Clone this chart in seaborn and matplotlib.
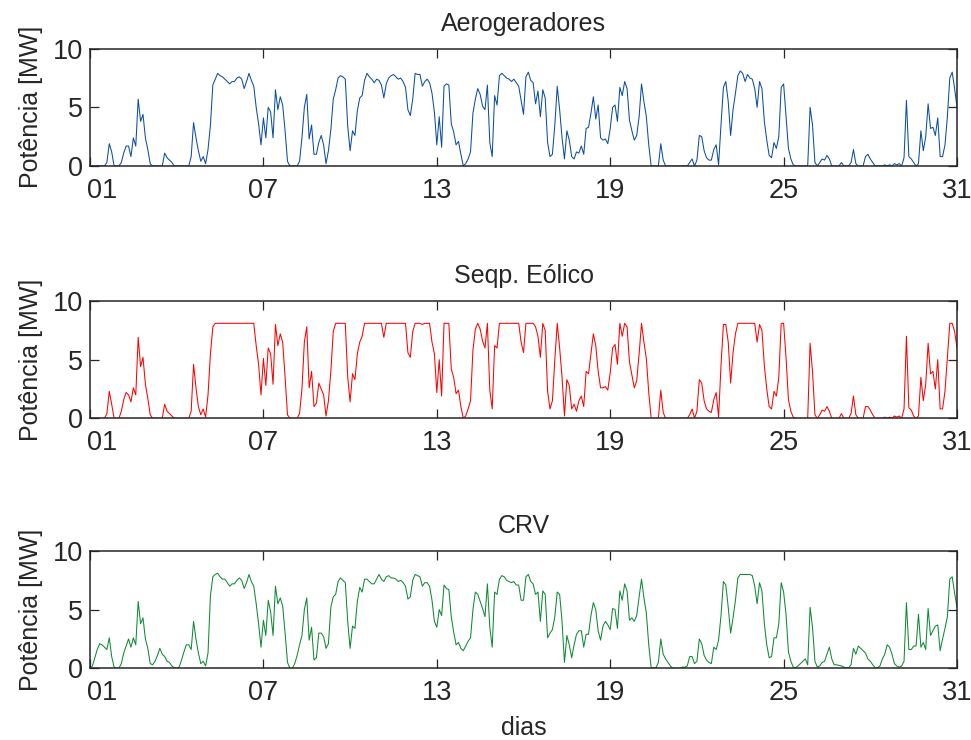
import numpy as np
import pandas as pd
import matplotlib
matplotlib.use("Agg")
import matplotlib.pyplot as plt
import matplotlib.transforms as mtransforms
import seaborn as sns

# Potência horária (amostras a cada 2 h), uma linha por dia; último valor = dia 31 00h
aerogeradores = [
    [0, 0, 0, 0, 0, 0, 0, 0.3, 1.9, 1.2, 0, 0],
    [0, 0.3, 1.1, 1.7, 1.7, 0.8, 2.4, 1.7, 5.7, 3.8, 4.4, 2.4],
    [1.4, 0.2, 0, 0, 0, 0, 0, 1.1, 0.7, 0.5, 0.3, 0],
    [0, 0, 0, 0, 0, 0, 0.8, 3.7, 2.4, 1.3, 0.4, 0.8],
    [0.2, 1.4, 3.5, 6.9, 7.4, 7.9, 7.7, 7.6, 7.4, 7.2, 7.0, 7.2],
    [7.2, 7.5, 7.6, 7.4, 6.6, 7.2, 7.9, 7.3, 6.8, 5.0, 3.6, 1.8],
    [4.1, 2.4, 5.0, 4.6, 2.4, 6.5, 4.8, 5.9, 5.2, 3.0, 0.4, 0],
    [0, 0, 0, 0.4, 2.4, 5.0, 6.1, 2.3, 3.5, 1.0, 1.0, 2.0],
    [2.6, 1.8, 0.2, 1.3, 3.1, 5.7, 6.5, 7.5, 7.7, 7.6, 7.4, 3.4],
    [1.3, 3.0, 2.6, 4.7, 5.8, 6.0, 7.3, 7.9, 7.6, 7.4, 7.1, 7.4],
    [7.3, 6.9, 5.8, 7.0, 7.5, 7.7, 7.8, 7.6, 7.4, 7.5, 7.2, 6.7],
    [4.8, 4.3, 5.7, 7.9, 7.8, 7.8, 6.8, 7.2, 7.4, 7.1, 6.2, 4.6],
    [1.8, 4.2, 1.6, 6.8, 7.0, 6.9, 3.6, 2.9, 1.8, 2.1, 1.0, 0],
    [0.2, 0.6, 1.2, 4.5, 5.7, 6.6, 6.1, 5.1, 4.8, 6.9, 2.0, 0.8],
    [6.0, 5.2, 7.7, 7.9, 7.7, 7.5, 7.4, 7.2, 7.4, 7.1, 6.8, 5.6],
    [4.4, 7.6, 8.0, 7.3, 7.1, 5.3, 6.4, 4.2, 6.5, 5.8, 2.0, 0.8],
    [1.0, 3.5, 6.8, 4.8, 2.4, 0.6, 3.0, 2.2, 0.8, 0.6, 1.2, 1.1],
    [1.7, 1.0, 3.2, 3.3, 4.5, 5.9, 4.0, 5.2, 2.4, 2.2, 2.3, 1.9],
    [3.2, 5.0, 5.2, 3.8, 6.7, 6.0, 7.2, 6.6, 3.9, 3.0, 2.2, 2.6],
    [4.2, 7.0, 5.5, 4.2, 1.8, 0, 0, 0, 0, 1.9, 0.5, 0],
    [0, 0, 0, 0, 0, 0, 0, 0, 0, 0.3, 0.6, 0],
    [0.5, 2.6, 2.5, 1.3, 0.7, 0.5, 0.5, 1.4, 1.8, 0.1, 3.5, 6.7],
    [7.2, 5.5, 2.6, 4.8, 6.2, 7.7, 8.1, 7.9, 7.2, 7.8, 7.5, 7.4],
    [6.6, 5.0, 7.2, 6.6, 3.8, 2.2, 0.9, 0.7, 2.0, 1.5, 2.5, 6.7],
    [7.0, 4.2, 1.5, 0.6, 0.1, 0, 0, 0, 0, 0, 0, 5.0],
    [3.5, 0.3, 0, 0.3, 0.6, 0.5, 0.9, 0.6, 0, 0, 0, 0],
    [0.3, 0, 0, 0, 0.3, 1.4, 0.2, 0, 0, 0, 0.8, 1.0],
    [0.6, 0.3, 0, 0, 0, 0, 0.1, 0, 0.1, 0, 0.2, 0.1],
    [0.2, 0, 0.7, 5.6, 0.8, 0.6, 0.3, 0, 0.2, 3.0, 1.3, 2.5],
    [5.3, 3.2, 3.3, 2.6, 4.1, 0.8, 0.8, 1.8, 4.2, 7.5, 8.0, 6.6],
    [5.0],
]

seqp_eolico = [
    [0, 0, 0, 0, 0, 0, 0, 0.4, 2.3, 1.2, 0, 0],
    [0, 0.6, 1.6, 2.2, 2.0, 1.4, 2.6, 2.0, 6.9, 4.4, 5.2, 2.9],
    [1.7, 0.3, 0, 0, 0, 0, 0, 1.2, 0.6, 0.4, 0.2, 0],
    [0, 0, 0, 0, 0, 0, 0.6, 4.6, 2.6, 1.0, 0.3, 0.8],
    [0.1, 2.0, 5.5, 7.8, 8.1, 8.1, 8.1, 8.1, 8.1, 8.1, 8.1, 8.1],
    [8.1, 8.1, 8.1, 8.1, 8.1, 8.1, 8.1, 8.1, 8.1, 6.2, 4.6, 2.0],
    [5.1, 2.8, 6.0, 5.5, 2.9, 8.0, 6.2, 7.2, 6.5, 3.5, 0.3, 0],
    [0, 0, 0, 0.4, 2.5, 6.5, 7.8, 2.6, 4.0, 1.0, 1.3, 3.0],
    [2.5, 2.0, 0.2, 1.5, 4.0, 7.4, 8.1, 8.1, 8.1, 8.1, 8.1, 3.5],
    [1.4, 3.8, 3.3, 5.5, 6.5, 7.0, 8.1, 8.1, 8.1, 8.1, 8.1, 8.1],
    [8.1, 8.1, 6.9, 8.1, 8.1, 8.1, 8.1, 8.1, 8.1, 8.1, 8.1, 8.1],
    [5.6, 5.2, 7.4, 8.1, 8.1, 8.1, 8.0, 8.1, 8.1, 8.1, 6.5, 5.5],
    [2.2, 5.0, 1.9, 8.1, 8.1, 8.1, 4.2, 3.5, 2.1, 2.4, 1.0, 0],
    [0.2, 0.8, 1.5, 5.8, 7.6, 8.1, 7.6, 6.6, 6.0, 8.1, 2.4, 0.8],
    [6.2, 6.0, 8.1, 8.1, 8.1, 8.1, 8.1, 8.1, 8.1, 8.1, 8.1, 6.5],
    [5.6, 8.1, 8.1, 8.1, 8.1, 7.8, 7.0, 5.2, 8.1, 7.5, 2.3, 0.8],
    [1.5, 5.0, 8.1, 6.0, 3.5, 0.2, 3.3, 2.8, 0.8, 1.2, 0.6, 1.5],
    [1.9, 1.0, 4.0, 3.8, 5.5, 7.2, 6.2, 4.0, 2.6, 2.6, 2.7, 2.4],
    [3.9, 6.0, 6.3, 4.6, 8.1, 7.0, 8.1, 7.8, 4.8, 3.7, 2.6, 3.2],
    [5.5, 8.1, 6.5, 5.1, 2.2, 0, 0, 0, 0, 2.4, 0.5, 0],
    [0, 0, 0, 0, 0, 0, 0, 0, 0, 0.3, 0.8, 0],
    [0.6, 3.3, 3.0, 1.5, 0.8, 0.6, 0.5, 1.6, 2.2, 0.1, 4.5, 8.0],
    [8.0, 6.5, 3.0, 5.6, 7.2, 8.1, 8.1, 8.1, 8.1, 8.1, 8.1, 8.1],
    [8.1, 6.5, 8.0, 7.5, 4.5, 2.5, 1.0, 0.8, 2.3, 1.9, 3.5, 8.1],
    [8.1, 5.2, 1.6, 0.6, 0.1, 0, 0, 0, 0, 0, 0, 6.4],
    [4.0, 0.3, 0, 0.3, 0.7, 0.6, 1.0, 0.6, 0, 0, 0, 0],
    [0.4, 0, 0, 0, 0.4, 1.9, 0.3, 0, 0, 0, 1.0, 1.0],
    [0.7, 0.3, 0, 0, 0, 0, 0.1, 0, 0.1, 0, 0.2, 0.1],
    [0.2, 0, 0.8, 7.0, 0.9, 0.7, 0.2, 0, 0.2, 3.5, 1.5, 2.9],
    [6.4, 3.8, 4.0, 2.5, 5.0, 0.8, 0.8, 2.3, 5.2, 8.1, 8.1, 7.4],
    [6.0],
]

crv = [
    [0, 0.2, 0.9, 1.6, 2.1, 2.0, 1.8, 1.6, 2.6, 1.0, 0.1, 0],
    [0, 0.4, 1.3, 1.9, 2.5, 1.8, 2.6, 2.0, 5.7, 3.8, 4.3, 2.5],
    [1.7, 0.4, 0.3, 0.6, 1.1, 1.7, 1.2, 1.0, 0.6, 0.5, 0.2, 0.05],
    [0, 0.1, 0.7, 1.4, 2.0, 2.0, 1.6, 4.0, 2.5, 1.3, 0.4, 0.6],
    [0.2, 1.3, 6.2, 7.8, 8.0, 8.1, 7.8, 7.6, 7.6, 7.3, 7.0, 7.2],
    [7.2, 7.5, 7.7, 7.5, 6.8, 7.3, 8.0, 7.4, 7.0, 5.5, 3.8, 1.8],
    [4.1, 2.8, 5.8, 4.8, 2.8, 7.0, 5.5, 6.0, 5.3, 3.0, 0.5, 0],
    [0, 0.4, 1.1, 2.0, 2.8, 5.0, 6.0, 2.4, 3.5, 0.7, 0.9, 3.0],
    [3.0, 2.7, 1.7, 2.1, 5.2, 6.1, 6.3, 7.4, 7.7, 7.5, 7.3, 4.0],
    [1.7, 3.6, 3.4, 5.7, 6.9, 6.5, 7.6, 7.6, 7.4, 7.2, 7.2, 7.6],
    [8.0, 7.6, 7.4, 7.8, 7.9, 7.7, 7.7, 7.6, 7.4, 7.5, 7.3, 7.0],
    [5.9, 6.1, 7.5, 8.0, 7.9, 7.8, 7.0, 7.3, 7.3, 7.0, 5.8, 4.0],
    [3.5, 5.0, 4.5, 7.1, 6.8, 6.7, 4.4, 3.1, 2.0, 2.2, 1.7, 1.5],
    [1.9, 2.3, 2.6, 5.0, 6.5, 6.3, 5.7, 5.1, 4.4, 7.2, 3.5, 1.8],
    [6.5, 6.3, 7.6, 7.9, 7.8, 7.5, 7.4, 7.3, 7.4, 7.1, 7.1, 5.8],
    [5.8, 7.8, 8.0, 7.4, 7.2, 6.3, 6.5, 4.0, 6.6, 6.3, 2.6, 3.0],
    [3.3, 4.4, 6.5, 6.3, 4.0, 0.5, 2.8, 2.0, 0.9, 2.0, 2.9, 3.2],
    [3.2, 1.8, 2.9, 2.9, 4.5, 5.6, 5.0, 3.2, 2.4, 3.6, 4.0, 3.7],
    [3.3, 5.1, 5.0, 3.4, 6.6, 5.8, 7.2, 6.6, 4.1, 4.3, 4.0, 4.5],
    [6.1, 7.6, 6.0, 4.7, 2.0, 0.05, 0.05, 0.05, 0.5, 2.5, 1.2, 0.8],
    [0.5, 0.2, 0, 0, 0, 0, 0.1, 0.1, 0.2, 1.0, 1.0, 0.4],
    [0.6, 2.5, 2.1, 1.1, 0.7, 0.5, 0.4, 1.8, 1.6, 2.4, 4.5, 7.4],
    [7.1, 5.2, 3.0, 4.3, 5.8, 7.7, 8.0, 8.0, 8.0, 8.0, 8.0, 7.9],
    [7.0, 5.5, 7.3, 6.6, 3.8, 2.0, 0.9, 1.0, 2.6, 2.6, 3.8, 7.3],
    [6.5, 4.6, 1.4, 0.6, 0.1, 0.05, 0.2, 0.4, 0.6, 0.8, 0.3, 5.2],
    [3.5, 0.6, 0.1, 0.2, 0.5, 0.6, 1.2, 1.8, 0.8, 0.3, 0.3, 0.25],
    [0.2, 0.1, 0.05, 0.05, 0.3, 1.7, 1.2, 1.9, 1.7, 1.5, 1.3, 0.8],
    [0.6, 0.3, 0.05, 0.05, 0.2, 0.8, 1.2, 2.0, 1.8, 1.2, 0.4, 0.2],
    [0.1, 0.2, 0.6, 5.6, 1.6, 1.6, 1.9, 1.9, 4.6, 1.8, 2.2, 1.6],
    [5.1, 2.8, 3.2, 3.6, 3.7, 1.5, 2.5, 3.4, 4.4, 7.6, 7.8, 6.4],
    [5.2],
]

titles = ["Aerogeradores", "Seqp. Eólico", "CRV"]
line_colors = ["#0b4ea2", "#ff0000", "#0f8a35"]
day_ticks = [1, 7, 13, 19, 25, 31]
day_labels = ["01", "07", "13", "19", "25", "31"]
power_ticks = [0, 5, 10]
samples_per_day = 12

sns.set_style("ticks")
plt.rcParams["font.family"] = ["Liberation Sans", "DejaVu Sans"]


def flatten(rows):
    return [v for row in rows for v in row]


series = [flatten(aerogeradores), flatten(seqp_eolico), flatten(crv)]
dia = 1 + np.arange(len(series[0])) / samples_per_day
df = pd.DataFrame({"dia": dia, titles[0]: series[0], titles[1]: series[1], titles[2]: series[2]})

fig = plt.figure(figsize=(9.71, 7.40), dpi=100)
left, width = 0.0927, 0.8929
bottoms = [0.7757, 0.4347, 0.0969]
height = 0.1585
fs_label = 18
fs_tick = 19.5

for i, (name, color, b) in enumerate(zip(titles, line_colors, bottoms)):
    ax = fig.add_axes([left, b, width, height])
    sns.lineplot(data=df, x="dia", y=name, ax=ax, color=color, linewidth=0.75,
                 estimator=None, sort=False)
    ax.set_xlim(1, 31)
    ax.set_ylim(0, 10)
    ax.set_xticks(day_ticks, day_labels)
    ax.set_yticks(power_ticks)
    ax.tick_params(direction="in", length=6.5, width=0.9, top=True, right=True,
                   labelsize=fs_tick, color="#262626")
    ax.tick_params(axis="x", pad=8.5)
    ax.tick_params(axis="y", pad=5)
    # first day label sits just inside the left edge, clear of the "0" tick
    first = ax.get_xticklabels()[0]
    first.set_transform(first.get_transform() +
                        mtransforms.ScaledTranslation(12 / 100, 0, fig.dpi_scale_trans))
    for sp in ax.spines.values():
        sp.set_linewidth(1.1)
        sp.set_color("#262626")
    ax.set_title(name, fontsize=fs_label, pad=13)
    ax.set_ylabel("Potência [MW]", fontsize=fs_label, labelpad=7)
    ax.set_xlabel("dias" if i == 2 else "", fontsize=fs_label, labelpad=7)

fig.savefig("out.png", dpi=100)
